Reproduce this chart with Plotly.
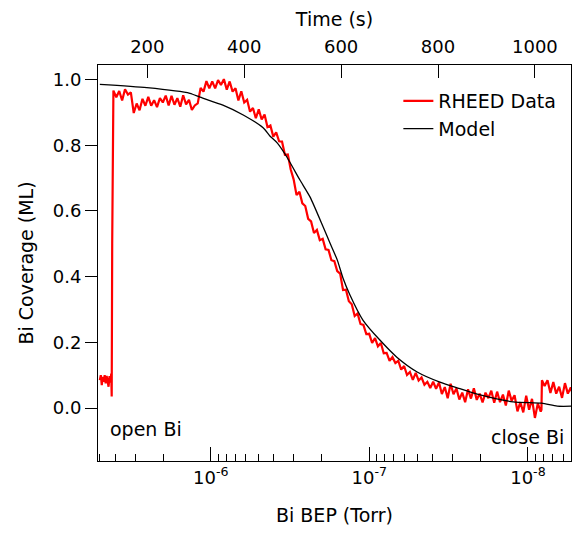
import math
import plotly.graph_objects as go

# ---------------- data ----------------
rheed_time = [102, 104, 106, 108, 110, 112, 114, 116, 118, 120, 122, 124, 125.5, 126.5, 127.5, 128.5,
              130, 136, 142, 148, 154, 160, 166, 172, 178, 184, 190, 196, 202, 208, 214, 220, 226, 232,
              238, 244, 250, 256, 262, 268, 274, 280, 286, 292, 298, 304, 310, 316, 322, 328, 334, 340,
              346, 352, 358, 364, 370, 376, 382, 388, 394, 400, 406, 412, 418, 424, 430, 436, 442, 448,
              454, 460, 466, 472, 478, 484, 490, 496, 502, 508, 514, 520, 526, 532, 538, 544, 550, 556,
              562, 568, 574, 580, 586, 592, 598, 604, 610, 616, 622, 628, 634, 640, 646, 652, 658, 664,
              670, 676, 682, 688, 694, 700, 706, 712, 718, 724, 730, 736, 742, 748, 754, 760, 766, 772,
              778, 784, 790, 796, 802, 808, 814, 820, 826, 832, 838, 844, 850, 856, 862, 868, 874, 880,
              886, 892, 898, 904, 910, 916, 922, 928, 934, 940, 946, 952, 958, 964, 970, 976, 982, 988,
              994, 1000, 1006, 1012, 1013.5, 1014.5, 1020, 1026, 1032, 1038, 1044, 1050, 1056, 1062,
              1068, 1074, 1080]
rheed_cov = [0.085, 0.100, 0.070, 0.095, 0.080, 0.100, 0.075, 0.098, 0.082, 0.065, 0.097, 0.078, 0.105,
             0.035, 0.50, 0.93,
             0.966, 0.946, 0.965, 0.936, 0.970, 0.954, 0.961, 0.898, 0.927, 0.906, 0.941, 0.920, 0.947,
             0.920, 0.937, 0.916, 0.943, 0.930, 0.951, 0.921, 0.950, 0.923, 0.943, 0.917, 0.952, 0.924,
             0.938, 0.907, 0.921, 0.927, 0.974, 0.963, 0.995, 0.973, 0.994, 0.973, 0.998, 0.983, 1.001,
             0.969, 0.994, 0.963, 0.973, 0.936, 0.964, 0.930, 0.938, 0.902, 0.913, 0.882, 0.909, 0.878,
             0.893, 0.855, 0.860, 0.826, 0.839, 0.812, 0.811, 0.771, 0.772, 0.726, 0.696, 0.648, 0.658,
             0.623, 0.615, 0.576, 0.568, 0.533, 0.542, 0.511, 0.515, 0.483, 0.481, 0.450, 0.447, 0.417,
             0.409, 0.359, 0.360, 0.325, 0.316, 0.280, 0.288, 0.256, 0.253, 0.225, 0.226, 0.198, 0.213,
             0.188, 0.198, 0.167, 0.168, 0.144, 0.155, 0.137, 0.144, 0.117, 0.128, 0.101, 0.110, 0.086,
             0.107, 0.084, 0.093, 0.071, 0.080, 0.061, 0.080, 0.059, 0.078, 0.043, 0.064, 0.030, 0.074,
             0.042, 0.060, 0.026, 0.047, 0.018, 0.057, 0.029, 0.060, 0.025, 0.044, 0.017, 0.047, 0.030,
             0.053, 0.016, 0.050, 0.018, 0.041, 0.008, 0.053, 0.022, 0.039, -0.010, 0.018, -0.013, 0.038,
             -0.005, 0.028, -0.030, 0.014, -0.011, -0.005, 0.085, 0.067, 0.085, 0.046, 0.079, 0.044,
             0.065, 0.031, 0.076, 0.044, 0.063, 0.030]

model_time = [102, 199, 288, 309, 356, 398, 439, 453, 468, 488, 515, 536, 563, 577, 592, 604, 618, 645,
              680, 715, 757, 804, 841, 887, 955, 1014, 1046, 1083]
model_cov = [0.985, 0.975, 0.958, 0.946, 0.922, 0.892, 0.853, 0.828, 0.807, 0.764, 0.694, 0.642, 0.551,
             0.502, 0.451, 0.395, 0.345, 0.268, 0.207, 0.155, 0.110, 0.079, 0.061, 0.040, 0.019, 0.015,
             0.006, 0.006]

bep_range = [5.14e-6, 5.35e-9]          # bottom-axis extent (Torr)
time_range = [98.2, 1074.5]             # top-axis extent (s)
bep_major = [1e-6, 1e-7, 1e-8]
bep_major_text = ["10<sup>-6</sup>", "10<sup>-7</sup>", "10<sup>-8</sup>"]
bep_minor = [m * 10.0 ** e for e in (-9, -8, -7, -6) for m in range(2, 10)]
time_ticks = [200, 400, 600, 800, 1000]
cov_ticks = [0.0, 0.2, 0.4, 0.6, 0.8, 1.0]

FONT = "DejaVu Sans"

fig = go.Figure()
# invisible trace binding the bottom (pressure) axis
fig.add_trace(go.Scatter(x=bep_range, y=[0.5, 0.5], mode="markers", marker=dict(opacity=0),
                         showlegend=False, hoverinfo="skip", xaxis="x", yaxis="y"))
fig.add_trace(go.Scatter(x=rheed_time, y=rheed_cov, mode="lines", name="RHEED Data",
                         line=dict(color="#ff0000", width=2.2), xaxis="x2", yaxis="y"))
fig.add_trace(go.Scatter(x=model_time, y=model_cov, mode="lines", name="Model",
                         line=dict(color="#000000", width=1.3, shape="spline", smoothing=0.6),
                         xaxis="x2", yaxis="y"))

# page body has an 8px default margin -> figure is drawn from (8, 8)
fig.update_layout(
    width=564, height=518,
    margin=dict(l=90, r=1, t=57, b=65),
    paper_bgcolor="white", plot_bgcolor="white",
    font=dict(family=FONT, size=18, color="black"),
    showlegend=True,
    legend=dict(x=0.635, y=0.957, xanchor="left", yanchor="top", bgcolor="rgba(0,0,0,0)",
                font=dict(size=19), tracegroupgap=0),
    xaxis=dict(type="log", range=[math.log10(bep_range[0]), math.log10(bep_range[1])],
               tickmode="array", tickvals=bep_major, ticktext=bep_major_text,
               ticks="inside", ticklen=14, tickwidth=1, tickcolor="black",
               minor=dict(tickmode="array", tickvals=bep_minor, ticks="inside", ticklen=7,
                          tickwidth=1, tickcolor="black", showgrid=False),
               showline=True, linecolor="black", linewidth=1, showgrid=False, zeroline=False,
               title=dict(text="Bi BEP (Torr)", font=dict(size=19), standoff=22)),
    xaxis2=dict(overlaying="x", side="top", anchor="y", range=time_range,
                tickmode="array", tickvals=time_ticks, ticklabelstandoff=4,
                ticks="inside", ticklen=13, tickwidth=1, tickcolor="black",
                showline=True, linecolor="black", linewidth=1, showgrid=False, zeroline=False,
                title=dict(text="Time (s)", font=dict(size=19), standoff=10)),
    yaxis=dict(range=[-0.161, 1.044], tickmode="array", tickvals=cov_ticks, tickformat=".1f",
               ticks="outside", ticklen=12, tickwidth=1, tickcolor="black",
               showline=True, mirror=True, linecolor="black", linewidth=1,
               showgrid=False, zeroline=False,
               title=dict(text="Bi Coverage (ML)", font=dict(size=19), standoff=14)),
    annotations=[
        dict(text="open Bi", xref="paper", yref="paper", x=0.021, y=0.081,
             xanchor="left", yanchor="middle", showarrow=False, font=dict(size=19)),
        dict(text="close Bi", xref="paper", yref="paper", x=0.99, y=0.061,
             xanchor="right", yanchor="middle", showarrow=False, font=dict(size=19)),
    ],
)

fig.write_html("out.html")
